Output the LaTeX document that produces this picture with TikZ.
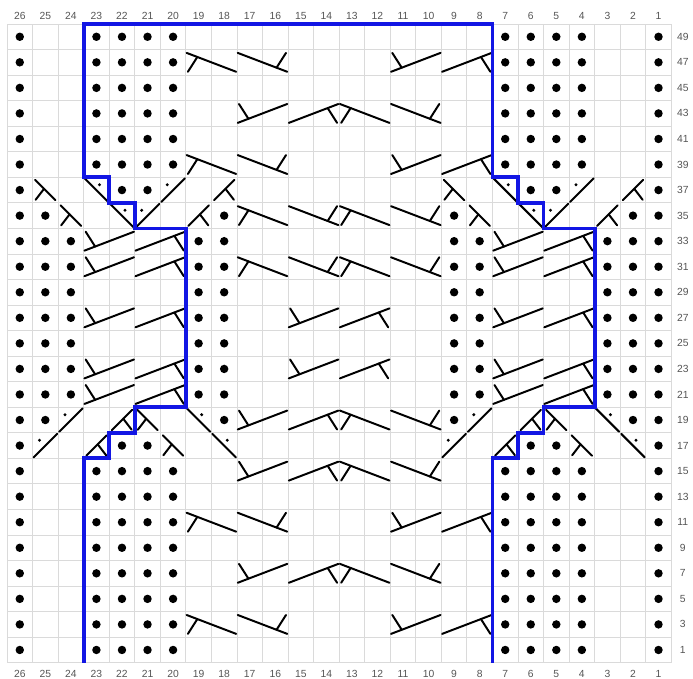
\documentclass[tikz,border=0pt]{standalone}
\usepackage{fontspec}
\setmainfont{Liberation Sans}
\definecolor{chartblue}{RGB}{18,22,228}
\definecolor{gridgray}{RGB}{218,218,218}
\definecolor{labelgray}{RGB}{85,85,85}
\tikzset{
  cable/.style={line width=2.2pt, black, line cap=round},
  lab/.style={font=\fontsize{11.5}{13}\selectfont, text=labelgray, inner sep=0pt},
  bluepath/.style={line width=4.2pt, chartblue, line join=miter},
  cabDL/.pic={\draw[cable] (0.03,0.87) -- (1.97,0.13); \draw[cable] (0.45,0.71) -- (0.08,0.13);},
  cabDR/.pic={\draw[cable] (0.03,0.87) -- (1.97,0.13); \draw[cable] (1.55,0.29) -- (1.92,0.87);},
  cabUL/.pic={\draw[cable] (0.03,0.13) -- (1.97,0.87); \draw[cable] (0.45,0.29) -- (0.08,0.87);},
  cabUR/.pic={\draw[cable] (0.03,0.13) -- (1.97,0.87); \draw[cable] (1.55,0.71) -- (1.92,0.13);},
  sglDL/.pic={\draw[cable] (0.1,0.9) -- (0.9,0.1); \draw[cable] (0.45,0.55) -- (0.12,0.12);},
  sglUR/.pic={\draw[cable] (0.1,0.1) -- (0.9,0.9); \draw[cable] (0.55,0.55) -- (0.88,0.12);},
  decDown/.pic={\draw[cable] (0.04,0.96) -- (0.96,0.04); \fill (0.62,0.71) circle (0.065);},
  decUp/.pic={\draw[cable] (0.04,0.04) -- (0.96,0.96); \fill (0.27,0.71) circle (0.065);},
}
\begin{document}
\begin{tikzpicture}[x=1cm,y=1cm]
\useasboundingbox (-0.274,-0.634) rectangle (26.85,25.94);
% grid
\draw[gridgray, line width=0.9pt] (0,0) grid (26,25);
% column labels
\foreach \c in {1,...,26} {
  \node[lab] (top\c) at (26.5-\c,25.32) {\c};
  \node[lab] (bot\c) at (26.5-\c,-0.43) {\c};
}
% row labels
\foreach \r in {1,3,...,49} {
  \node[lab] (row\r) at (26.45,\r/2) {\r};
}
% purl dots
\foreach \r in {49,47,45,43,41,39,15,13,11,9,7,5,3,1}
  \foreach \c in {26,23,22,21,20,7,6,5,4,1}
    \fill (26.5-\c,\r/2) circle (0.165);
\foreach \r in {33,31,29,27,25,23,21}
  \foreach \c in {26,25,24,19,18,9,8,3,2,1}
    \fill (26.5-\c,\r/2) circle (0.165);
\foreach \r in {37,17}
  \foreach \c in {26,22,21,6,5,1}
    \fill (26.5-\c,\r/2) circle (0.165);
\foreach \r in {35,19}
  \foreach \c in {26,25,18,9,2,1}
    \fill (26.5-\c,\r/2) circle (0.165);
% two-stitch cable symbols
\foreach \r in {47,39,11,3} {
  \pic at ({26-19},{(\r-1)/2}) {cabDL};
  \pic at ({26-17},{(\r-1)/2}) {cabDR};
  \pic at ({26-11},{(\r-1)/2}) {cabUL};
  \pic at ({26-9},{(\r-1)/2}) {cabUR};
}
\foreach \r in {43,19,15,7} {
  \pic at ({26-17},{(\r-1)/2}) {cabUL};
  \pic at ({26-15},{(\r-1)/2}) {cabUR};
  \pic at ({26-13},{(\r-1)/2}) {cabDL};
  \pic at ({26-11},{(\r-1)/2}) {cabDR};
}
\foreach \r in {35,31} {
  \pic at ({26-17},{(\r-1)/2}) {cabDL};
  \pic at ({26-15},{(\r-1)/2}) {cabDR};
  \pic at ({26-13},{(\r-1)/2}) {cabDL};
  \pic at ({26-11},{(\r-1)/2}) {cabDR};
}
\foreach \r in {27,23} {
  \pic at ({26-15},{(\r-1)/2}) {cabUL};
  \pic at ({26-13},{(\r-1)/2}) {cabUR};
}
\foreach \r in {33,31,27,23,21} {
  \pic at ({26-23},{(\r-1)/2}) {cabUL};
  \pic at ({26-21},{(\r-1)/2}) {cabUR};
  \pic at ({26-7},{(\r-1)/2}) {cabUL};
  \pic at ({26-5},{(\r-1)/2}) {cabUR};
}
% single-stitch crossings
\foreach \s in {0,16} {
  % row 37
  \pic at ({26-25+\s},18) {sglDL};
  \pic at ({26-23+\s},18) {decDown};
  \pic at ({26-20+\s},18) {decUp};
  \pic at ({26-18+\s},18) {sglUR};
  % row 35
  \pic at ({26-24+\s},17) {sglDL};
  \pic at ({26-22+\s},17) {decDown};
  \pic at ({26-21+\s},17) {decUp};
  \pic at ({26-19+\s},17) {sglUR};
  % row 19
  \pic at ({26-24+\s},9) {decUp};
  \pic at ({26-22+\s},9) {sglUR};
  \pic at ({26-21+\s},9) {sglDL};
  \pic at ({26-19+\s},9) {decDown};
  % row 17
  \pic at ({26-25+\s},8) {decUp};
  \pic at ({26-23+\s},8) {sglUR};
  \pic at ({26-20+\s},8) {sglDL};
  \pic at ({26-18+\s},8) {decDown};
}
% blue outline
\draw[bluepath] (3,0) -- (3,8) -- (4,8) -- (4,9) -- (5,9) -- (5,10) -- (7,10) -- (7,17)
  -- (5,17) -- (5,18) -- (4,18) -- (4,19) -- (3,19) -- (3,25) -- (19,25) -- (19,19)
  -- (20,19) -- (20,18) -- (21,18) -- (21,17) -- (23,17) -- (23,10) -- (21,10) -- (21,9)
  -- (20,9) -- (20,8) -- (19,8) -- (19,0);
\end{tikzpicture}
\end{document}
